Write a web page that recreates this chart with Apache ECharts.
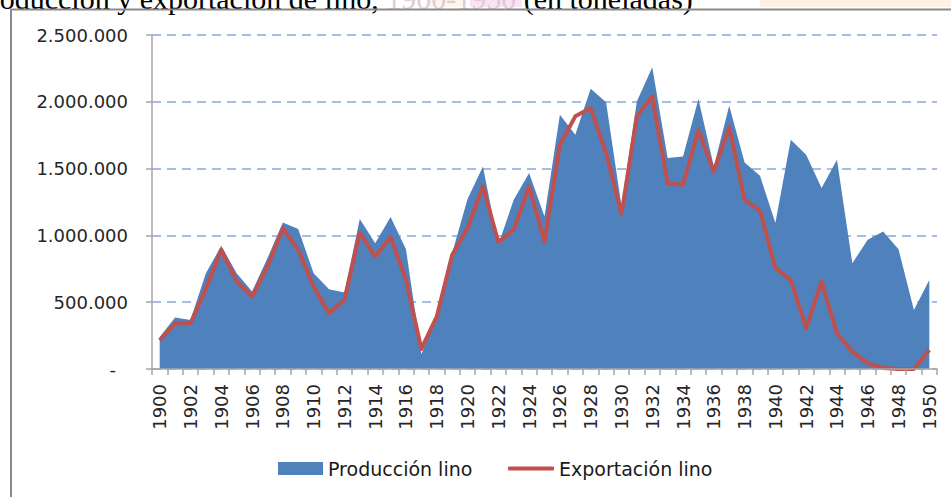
<!DOCTYPE html>
<html>
<head>
<meta charset="utf-8">
<script src="https://cdn.jsdelivr.net/npm/echarts@6/dist/echarts.min.js"></script>
<style>html,body{margin:0;padding:0;background:#fff;}#c{width:951px;height:497px;}</style>
</head>
<body>
<div id="c"></div>
<script>
const years = [];
for (let y = 1900; y <= 1950; y++) years.push(String(y));

const produccion = [240000, 385000, 367000, 717000, 922000, 717000, 580000, 829000, 1097000, 1047000,
  717000, 597000, 572000, 1122000, 942000, 1137000, 897000, 110000, 417000, 867000,
  1272000, 1516000, 930000, 1266000, 1467000, 1141000, 1903000, 1753000, 2098000, 1996000,
  1220000, 2003000, 2258000, 1579000, 1591000, 2021000, 1516000, 1971000, 1546000, 1446000,
  1092000, 1716000, 1604000, 1354000, 1566000, 792000, 967000, 1029000, 897000, 442000, 667000];

const exportacion = [215000, 342000, 342000, 600000, 892000, 655000, 542000, 767000, 1054000, 892000,
  617000, 417000, 517000, 1022000, 842000, 987000, 667000, 150000, 392000, 854000,
  1054000, 1366000, 950000, 1042000, 1366000, 954000, 1679000, 1891000, 1953000, 1616000,
  1160000, 1891000, 2041000, 1391000, 1379000, 1786000, 1479000, 1811000, 1266000, 1186000,
  755000, 667000, 305000, 655000, 267000, 130000, 42000, 8000, 0, 0, 142000];

const seriesNames = ['Producción lino', 'Exportación lino'];
const titleMain = 'Producción y exportación de lino, ';
const titleYears = '1900-1950';
const titleEnd = ' (en toneladas)';

function fmt(v) {
  if (v === 0) return '{d|-}';
  return String(v).replace(/\B(?=(\d{3})+(?!\d))/g, '.');
}

const chart = echarts.init(document.getElementById('c'), null, {renderer: 'svg'});
chart.setOption({
  animation: false,
  backgroundColor: '#ffffff',
  textStyle: {fontFamily: 'DejaVu Sans'},
  grid: {left: 152, right: 14, top: 35, bottom: 128, outerBoundsMode: 'none'},
  graphic: [
    {type: 'rect', shape: {x: 430, y: 0, width: 32, height: 7}, style: {fill: '#fef6e8'}, z: 1},
    {type: 'rect', shape: {x: 470, y: 0, width: 52, height: 7}, style: {fill: '#fbe3f4'}, z: 1},
    {type: 'rect', shape: {x: 760, y: 0, width: 191, height: 7}, style: {fill: '#fef3e3'}, z: 1},
    {type: 'text', x: -27, y: -2, z: 2,
      style: {
        text: '{a|' + titleMain + '}{b|' + titleYears + '}{a|' + titleEnd + '}',
        verticalAlign: 'middle', align: 'left',
        rich: {
          a: {fontFamily: 'Liberation Serif', fontSize: 30, fill: '#000'},
          b: {fontFamily: 'Liberation Serif', fontSize: 30, fill: '#e0cbd9'}
        }
      }
    },
    {type: 'rect', shape: {x: 11, y: 9.5, width: 1000, height: 600}, style: {fill: 'none', stroke: '#8a8a8a', lineWidth: 2}, z: 3}
  ],
  legend: [
    {
      left: 273, top: 454,
      itemWidth: 45, itemHeight: 13,
      textStyle: {fontFamily: 'DejaVu Sans', fontSize: 19, color: '#1a1a1a'},
      data: [{name: seriesNames[0], icon: 'rect'}]
    },
    {
      left: 503, top: 454,
      itemWidth: 46, itemHeight: 4,
      textStyle: {fontFamily: 'DejaVu Sans', fontSize: 19, color: '#1a1a1a'},
      data: [{name: seriesNames[1], icon: 'roundRect', itemStyle: {color: '#c0504d'}}]
    }
  ],
  xAxis: {
    type: 'category',
    data: years,
    boundaryGap: true,
    z: 20,
    axisLine: {lineStyle: {color: '#a6a6a6', width: 1.5}},
    axisTick: {show: true, interval: 0, length: 6, inside: false, lineStyle: {color: '#a6a6a6', width: 1.5}},
    axisLabel: {interval: 1, rotate: 90, margin: 15, fontSize: 18, color: '#262626', fontFamily: 'DejaVu Sans'}
  },
  yAxis: {
    type: 'value',
    min: 0, max: 2500000, interval: 500000,
    z: 0,
    axisLine: {show: true, lineStyle: {color: '#a6a6a6', width: 1.5}},
    axisTick: {show: true, length: 6, lineStyle: {color: '#a6a6a6', width: 1.5}},
    splitLine: {show: true, lineStyle: {color: '#a4bce6', width: 2, type: [9, 6]}},
    axisLabel: {
      margin: 24, fontSize: 18, color: '#262626', fontFamily: 'DejaVu Sans',
      formatter: fmt,
      rich: {d: {fontSize: 18, color: '#262626', padding: [0, 12, 0, 0], fontFamily: 'DejaVu Sans'}}
    }
  },
  series: [
    {
      name: seriesNames[0], type: 'line', data: produccion,
      symbol: 'none', color: '#4f81bd',
      lineStyle: {width: 0, color: '#4f81bd', opacity: 0},
      areaStyle: {color: '#4f81bd', opacity: 1},
      emphasis: {disabled: true},
      z: 5
    },
    {
      name: seriesNames[1], type: 'line', data: exportacion,
      symbol: 'none', color: '#c0504d',
      lineStyle: {width: 4, color: '#c0504d', join: 'round'},
      emphasis: {disabled: true},
      z: 6
    }
  ]
});
</script>
</body>
</html>
